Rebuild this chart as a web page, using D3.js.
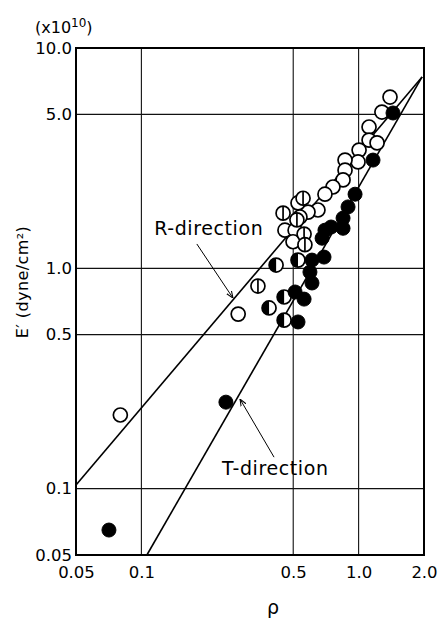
<!DOCTYPE html>
<html><head><meta charset="utf-8">
<script src="https://cdn.jsdelivr.net/npm/d3@7"></script>
<style>body{margin:0;background:#fff}svg{display:block}</style>
</head><body><svg id="c" width="438" height="623"></svg>
<script>
// ---- data ----
const xTicks = [0.05, 0.1, 0.5, 1.0, 2.0];
const xTickLabels = ["0.05", "0.1", "0.5", "1.0", "2.0"];
const yTicks = [0.05, 0.1, 0.5, 1.0, 5.0, 10.0];
const yTickLabels = ["0.05", "0.1", "0.5", "1.0", "5.0", "10.0"];
const xGrid = [0.1, 0.5, 1.0];
const yGrid = [0.1, 0.5, 1.0, 5.0];

// [rho, E'] open circles
const openPts = [[0.080,0.216],[0.279,0.620],[1.395,5.99],[1.28,5.12],[1.117,4.38],[1.117,3.82],[1.216,3.71],
  [1.005,3.44],[0.994,3.04],[0.866,3.10],[0.866,2.79],[0.848,2.52],[0.762,2.34],[0.70,2.17],[0.650,1.84],
  [0.585,1.80],[0.526,1.98],[0.537,1.71],[0.458,1.49],[0.510,1.49],[0.499,1.32]];
// circles with vertical bar
const barredPts = [[0.344,0.831],[0.449,1.78],[0.555,2.08],[0.520,1.66],[0.561,1.43],[0.566,1.28]];
// half-filled circles
const halfPts = [[0.417,1.035],[0.387,0.661],[0.454,0.741],[0.454,0.582],[0.526,1.09]];
// filled circles
const filledPts = [[0.0709,0.0649],[0.245,0.247],[1.44,5.07],[1.165,3.10],[0.963,2.17],[0.894,1.90],[0.848,1.69],
  [0.848,1.52],[0.747,1.54],[0.70,1.49],[0.679,1.37],[0.610,1.09],[0.693,1.125],[0.597,0.962],[0.610,0.858],
  [0.510,0.781],[0.561,0.725],[0.526,0.571]];

const rLine = [[0.05,0.1038],[1.96,7.39]];
const tLine = [[0.106,0.05],[1.96,7.39]];
const rLabel = {text:"R-direction", pos:[0.1145,1.416], leader:[[0.180,1.29],[0.264,0.733]]};
const tLabel = {text:"T-direction", pos:[0.235,0.1153], leader:[[0.408,0.139],[0.2845,0.255]]};

// ---- layout ----
const W = 438, H = 623;
const m = {l:76, r:14, t:48, b:68};
const svg = d3.select("#c");
const x = d3.scaleLog().domain([0.05, 2.0]).range([m.l, W - m.r]);
const y = d3.scaleLog().domain([0.05, 10.0]).range([H - m.b, m.t]);
const font = "'DejaVu Sans', sans-serif";

svg.append("rect").attr("width", W).attr("height", H).attr("fill", "#fff");

// grid
svg.append("g").selectAll("line").data(xGrid).join("line")
  .attr("x1", d => x(d)).attr("x2", d => x(d)).attr("y1", y(0.05)).attr("y2", y(10))
  .attr("stroke", "#111").attr("stroke-width", 1.1);
svg.append("g").selectAll("line").data(yGrid).join("line")
  .attr("x1", x(0.05)).attr("x2", x(2.0)).attr("y1", d => y(d)).attr("y2", d => y(d))
  .attr("stroke", "#111").attr("stroke-width", 1.1);

// frame
svg.append("rect").attr("x", x(0.05)).attr("y", y(10)).attr("width", x(2.0) - x(0.05)).attr("height", y(0.05) - y(10))
  .attr("fill", "none").attr("stroke", "#000").attr("stroke-width", 2);

// axes (labels only)
const xAxis = d3.axisBottom(x).tickValues(xTicks).tickSize(0).tickPadding(11)
  .tickFormat((d, i) => xTickLabels[i]);
const gx = svg.append("g").attr("transform", `translate(0,${y(0.05)})`).call(xAxis);
gx.select(".domain").remove();
gx.selectAll("text").attr("font-family", font).attr("font-size", 16.5).attr("fill", "#000");

const yAxis = d3.axisLeft(y).tickValues(yTicks).tickSize(0).tickPadding(4)
  .tickFormat((d, i) => yTickLabels[i]);
const gy = svg.append("g").attr("transform", `translate(${x(0.05)},0)`).call(yAxis);
gy.select(".domain").remove();
gy.selectAll("text").attr("font-family", font).attr("font-size", 16.5).attr("fill", "#000");

// fitted lines
const line = d3.line().x(d => x(d[0])).y(d => y(d[1]));
[rLine, tLine].forEach(l => svg.append("path").attr("d", line(l)).attr("fill", "none")
  .attr("stroke", "#000").attr("stroke-width", 1.6));

// annotations
svg.append("defs").append("marker").attr("id", "ah").attr("viewBox", "0 0 10 10")
  .attr("refX", 10).attr("refY", 5).attr("markerWidth", 7).attr("markerHeight", 7).attr("orient", "auto")
  .append("path").attr("d", "M0,1 L10,5 L0,9").attr("fill", "none").attr("stroke", "#000").attr("stroke-width", 1.5);
[rLabel, tLabel].forEach(a => {
  svg.append("path").attr("d", line(a.leader)).attr("stroke", "#000").attr("stroke-width", 1)
    .attr("fill", "none").attr("marker-end", "url(#ah)");
  svg.append("text").attr("x", x(a.pos[0])).attr("y", y(a.pos[1])).text(a.text)
    .attr("font-family", font).attr("font-size", 19).attr("letter-spacing", 0.6).attr("fill", "#000");
});

// points
const R = 7;
const gp = svg.append("g");
openPts.forEach(p => gp.append("circle").attr("cx", x(p[0])).attr("cy", y(p[1])).attr("r", R)
  .attr("fill", "#fff").attr("stroke", "#000").attr("stroke-width", 1.7));
barredPts.forEach(p => {
  const cx = x(p[0]), cy = y(p[1]);
  gp.append("circle").attr("cx", cx).attr("cy", cy).attr("r", R).attr("fill", "#fff").attr("stroke", "#000").attr("stroke-width", 1.7);
  gp.append("line").attr("x1", cx).attr("x2", cx).attr("y1", cy - R).attr("y2", cy + R).attr("stroke", "#000").attr("stroke-width", 1.7);
});
halfPts.forEach(p => {
  const cx = x(p[0]), cy = y(p[1]);
  gp.append("circle").attr("cx", cx).attr("cy", cy).attr("r", R).attr("fill", "#fff").attr("stroke", "#000").attr("stroke-width", 1.7);
  gp.append("path").attr("d", `M${cx},${cy - R} A${R},${R} 0 0 0 ${cx},${cy + R} Z`).attr("fill", "#000");
});
filledPts.forEach(p => gp.append("circle").attr("cx", x(p[0])).attr("cy", y(p[1])).attr("r", R)
  .attr("fill", "#000").attr("stroke", "#000").attr("stroke-width", 1));

// titles
const yt = svg.append("text").attr("transform", `translate(28,${282}) rotate(-90)`).attr("text-anchor", "middle")
  .attr("font-family", font).attr("font-size", 16).attr("letter-spacing", 0.4).attr("fill", "#000");
yt.text("E\u2032 (dyne/cm\u00B2)");
svg.append("text").attr("x", 273).attr("y", 614).attr("text-anchor", "middle")
  .attr("font-family", font).attr("font-size", 19).attr("fill", "#000").text("\u03C1");
const sc = svg.append("text").attr("x", 35).attr("y", 33).attr("font-family", font).attr("font-size", 16).attr("fill", "#000");
sc.append("tspan").text("(x10");
sc.append("tspan").attr("font-size", 12).attr("dy", -6).text("10");
sc.append("tspan").attr("dy", 6).text(")");
</script></body></html>
